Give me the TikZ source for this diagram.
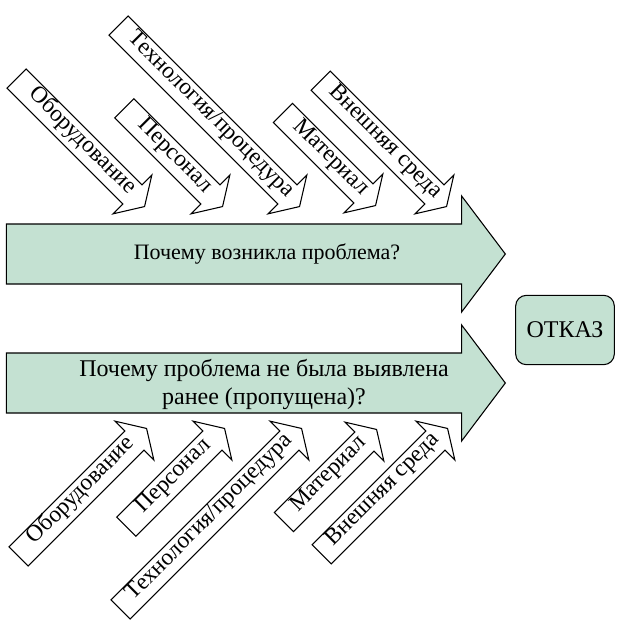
\documentclass[tikz,border=0pt]{standalone}
\usepackage{fontspec}
\setmainfont{Liberation Serif}
\usetikzlibrary{shapes.arrows,positioning,calc}
\definecolor{fishgreen}{RGB}{196,225,210}
\tikzset{
  bigarr/.style={draw,fill=fishgreen,line width=0.8pt,single arrow,anchor=tip,inner xsep=0pt,inner ysep=22.1pt,
    minimum height=374.25pt,minimum width=86.25pt,single arrow head extend=21pt,single arrow tip angle=106},
  causearr/.style={draw,fill=white,line width=0.8pt,single arrow,anchor=tip,inner xsep=0pt,inner ysep=9.75pt,
    minimum width=40.5pt,single arrow head extend=10.5pt,single arrow tip angle=116},
  lbl/.style={font=\fontsize{17.5}{20}\selectfont,inner sep=0pt,text height=0.7em,text depth=0.22em},
  qtxt/.style={font=\fontsize{18}{21}\selectfont,align=center},
}
\begin{document}
\begin{tikzpicture}[x=0.75pt,y=-0.75pt]
\useasboundingbox (0,0) rectangle (617,620);
% main arrows
\node[bigarr] (why) at (506,254) {};
\node[bigarr] (miss) at (506,383) {};
\node[qtxt,font=\fontsize{16.5}{20}\selectfont] (whyt) at (267,254) {Почему возникла проблема?};
\node[qtxt] (misst) at (264,384) {Почему проблема не была выявлена\\ранее (пропущена)?};
% failure box
\node[draw,fill=fishgreen,line width=0.8pt,rounded corners=8pt,minimum width=74pt,minimum height=52pt,
  font=\fontsize{18}{21}\selectfont] (fail) at (565,330) {ОТКАЗ};
% causes, upper row
\node[causearr,rotate=-45,minimum height=135.75pt] (u1) at (145,207) {};
\node[causearr,rotate=-45,minimum height=104.25pt] (u2) at (223,207) {};
\node[causearr,rotate=-45,minimum height=192pt] (u3) at (300,207) {};
\node[causearr,rotate=-45,minimum height=98.25pt] (u4) at (376,206) {};
\node[causearr,rotate=-45,minimum height=133.5pt] (u5) at (447,207) {};
\node[lbl,rotate=-45] (u1t) at ($(u1.tail)!0.5!(u1.tip)$) {Оборудование};
\node[lbl,rotate=-45] (u2t) at ($(u2.tail)!0.5!(u2.tip)$) {Персонал};
\node[lbl,rotate=-45] (u3t) at ($(u3.tail)!0.5!(u3.tip)$) {Технология/процедура};
\node[lbl,rotate=-45] (u4t) at ($(u4.tail)!0.5!(u4.tip)$) {Материал};
\node[lbl,rotate=-45] (u5t) at ($(u5.tail)!0.5!(u5.tip)$) {Внешняя среда};
% causes, lower row
\node[causearr,rotate=45,minimum height=135.75pt] (d1) at (147,428) {};
\node[causearr,rotate=45,minimum height=104.25pt] (d2) at (225,428) {};
\node[causearr,rotate=45,minimum height=192pt] (d3) at (302,428) {};
\node[causearr,rotate=45,minimum height=98.25pt] (d4) at (377,429) {};
\node[causearr,rotate=45,minimum height=133.5pt] (d5) at (448,428) {};
\node[lbl,rotate=45] (d1t) at ($(d1.tail)!0.5!(d1.tip)$) {Оборудование};
\node[lbl,rotate=45] (d2t) at ($(d2.tail)!0.5!(d2.tip)$) {Персонал};
\node[lbl,rotate=45] (d3t) at ($(d3.tail)!0.5!(d3.tip)$) {Технология/процедура};
\node[lbl,rotate=45] (d4t) at ($(d4.tail)!0.5!(d4.tip)$) {Материал};
\node[lbl,rotate=45] (d5t) at ($(d5.tail)!0.5!(d5.tip)$) {Внешняя среда};
\end{tikzpicture}
\end{document}
